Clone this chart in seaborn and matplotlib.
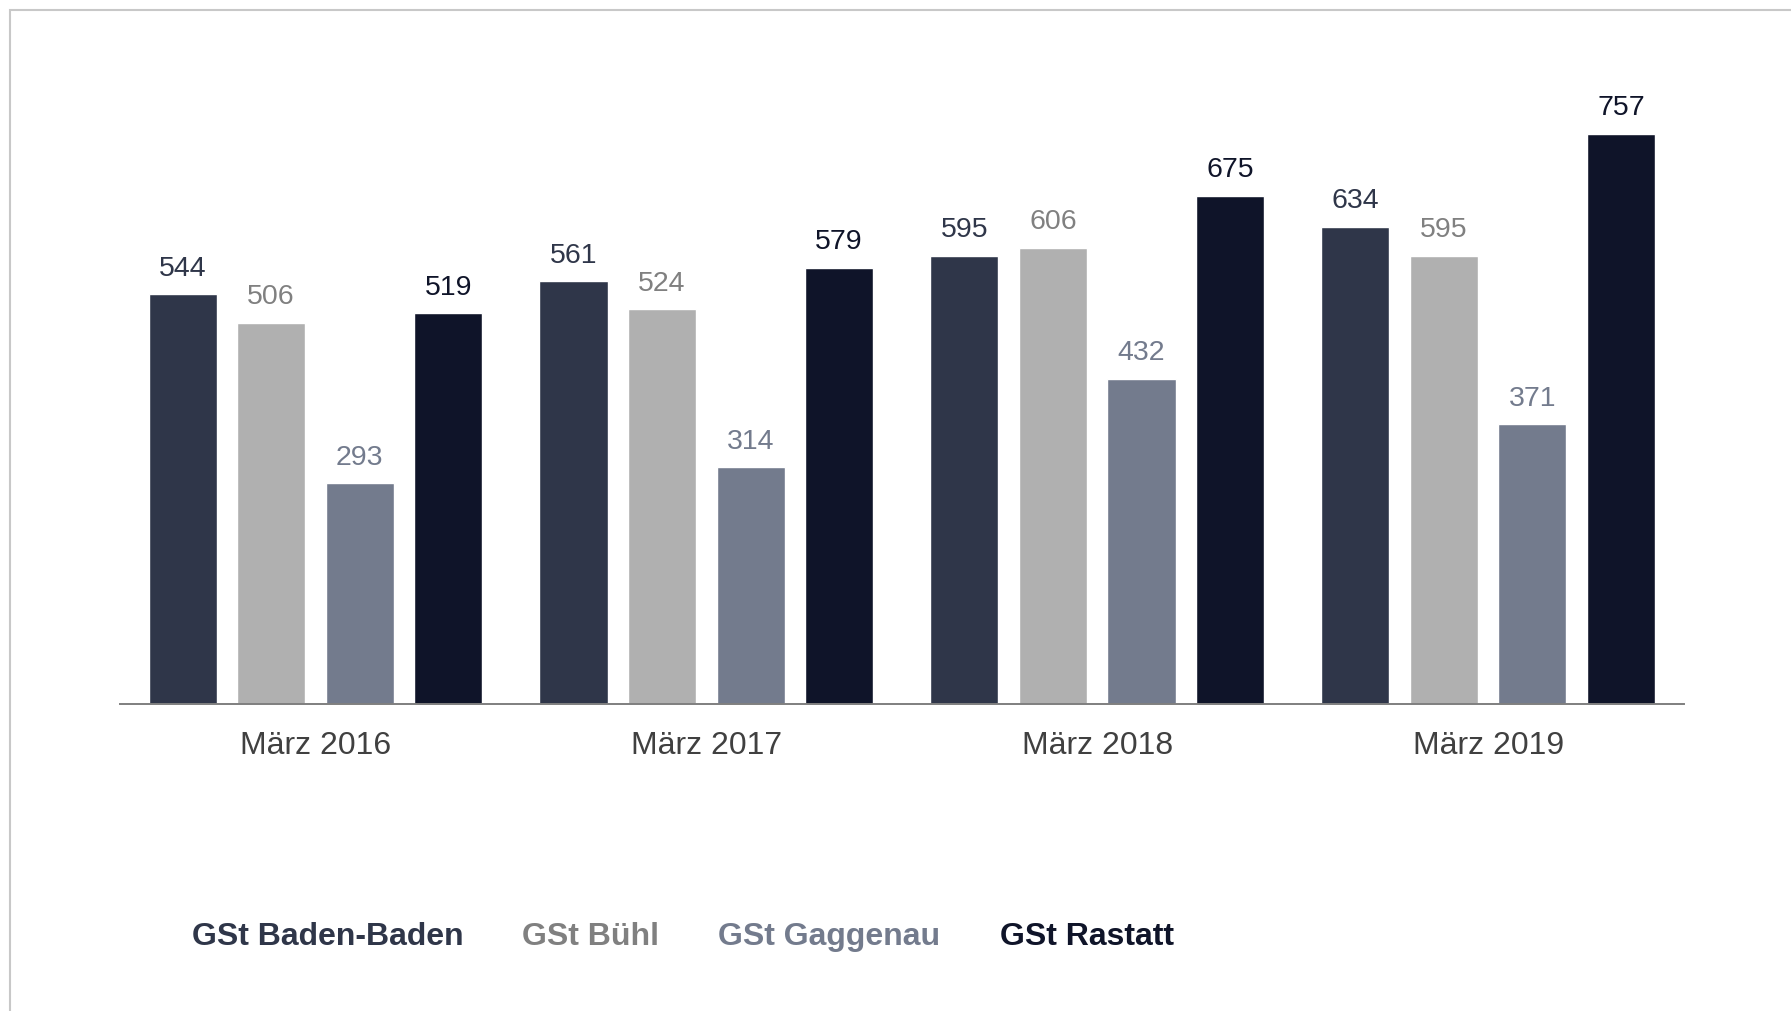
import pandas as pd
import matplotlib
matplotlib.use('Agg')
import matplotlib.pyplot as plt
from matplotlib.patches import Rectangle
import seaborn as sns

# data
months = ['März 2016', 'März 2017', 'März 2018', 'März 2019']
stellen = ['GSt Baden-Baden', 'GSt Bühl', 'GSt Gaggenau', 'GSt Rastatt']
baden_baden = [544, 561, 595, 634]
buehl = [506, 524, 606, 595]
gaggenau = [293, 314, 432, 371]
rastatt = [519, 579, 675, 757]

bar_colors = ['#2f3649', '#b0b0b0', '#737b8d', '#0f1429']
text_colors = ['#2f3649', '#808080', '#737b8d', '#0f1429']

df = pd.DataFrame({
    'Monat': months * 4,
    'Stelle': [s for s in stellen for _ in months],
    'Wert': baden_baden + buehl + gaggenau + rastatt,
})

sns.set_theme(style='white')
plt.rcParams['font.family'] = ['Liberation Sans', 'DejaVu Sans']

fig = plt.figure(figsize=(17.91, 10.11), dpi=100)
ax = fig.add_axes([0.067, 0.304, 0.873, 0.5955])

sns.barplot(data=df, x='Monat', y='Wert', hue='Stelle', order=months, hue_order=stellen,
            palette=dict(zip(stellen, bar_colors)), width=0.906, gap=0.23,
            saturation=1, ax=ax)

for cont, col in zip(ax.containers, text_colors):
    ax.bar_label(cont, padding=9, fontsize=20.5, color=col)

ax.set_xlim(-0.5, 3.5)
ax.set_ylim(0, 800)
ax.set_xlabel('')
ax.set_ylabel('')
ax.set_yticks([])
ax.tick_params(axis='x', length=0, pad=20, labelsize=23, labelcolor='#404040')
for s in ['top', 'right', 'left']:
    ax.spines[s].set_visible(False)
ax.spines['bottom'].set_color('#7f7f7f')
ax.spines['bottom'].set_linewidth(1.4)

# legend as coloured text only
leg = ax.legend(loc='center left', bbox_to_anchor=(0.107, 0.0734), bbox_transform=fig.transFigure,
                ncol=4, frameon=False, handlelength=0, handletextpad=0, columnspacing=1.85,
                borderpad=0, borderaxespad=0, prop={'size': 23, 'weight': 'bold'})
for h in leg.legend_handles:
    h.set_visible(False)
for t, col in zip(leg.get_texts(), text_colors):
    t.set_color(col)

# thin frame line top and left
fig.add_artist(Rectangle((10 / 1791, -0.05), 1.1, 1.05 - 9.5 / 1011, transform=fig.transFigure,
                         fill=False, edgecolor='#c8c8c8', linewidth=1.5))

fig.savefig('out.png', dpi=100, facecolor='white')
